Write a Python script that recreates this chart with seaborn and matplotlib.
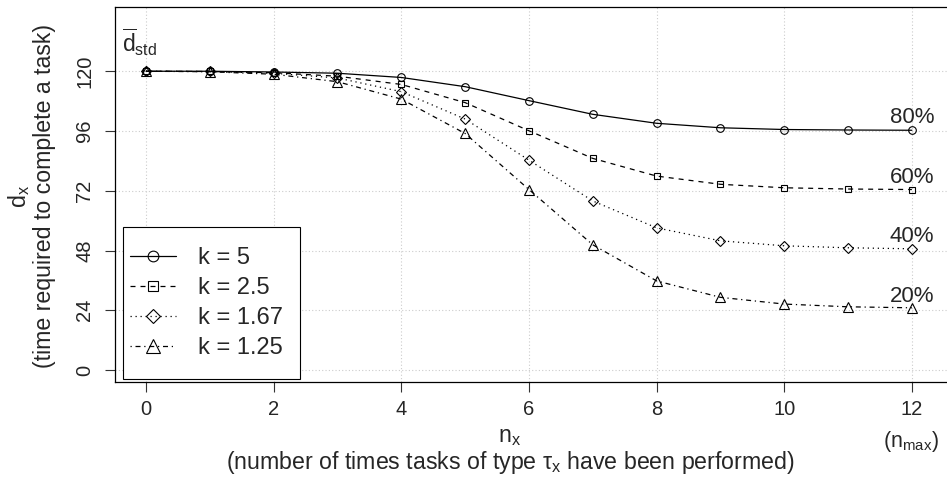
import numpy as np
import pandas as pd
import seaborn as sns
import matplotlib.pyplot as plt
from matplotlib.patches import Rectangle

# values
n_x = [0, 1, 2, 3, 4, 5, 6, 7, 8, 9, 10, 11, 12]
d_k5 = [120, 120, 119.7, 119.2, 117.5, 113.8, 108.2, 102.7, 99.1, 97.3, 96.6, 96.4, 96.3]
d_k25 = [120, 119.9, 119.4, 118.0, 114.7, 107.4, 96.1, 85.0, 77.9, 74.6, 73.2, 72.7, 72.5]
d_k167 = [120, 119.9, 119.2, 117.3, 111.8, 100.8, 84.3, 67.9, 57.1, 51.9, 49.9, 49.1, 48.7]
d_k125 = [120, 119.8, 118.8, 115.8, 108.8, 95.0, 72.5, 50.3, 35.8, 29.2, 26.5, 25.4, 25.0]
series_labels = ["k = 5", "k = 2.5", "k = 1.67", "k = 1.25"]
pct_labels = ["80%", "60%", "40%", "20%"]
pct_levels = [96, 72, 48, 24]
y_ticks = [0, 24, 48, 72, 96, 120]
x_ticks = [0, 2, 4, 6, 8, 10, 12]

sns.set_style("ticks")
plt.rcParams["font.family"] = ["Liberation Sans", "DejaVu Sans"]
plt.rcParams["mathtext.fontset"] = "custom"
plt.rcParams["mathtext.rm"] = "Liberation Sans"
plt.rcParams["mathtext.it"] = "Liberation Sans:italic"
plt.rcParams["mathtext.default"] = "regular"

fs_tick = 14.5
fs_lab = 16.7
W, H = 947, 479
fig = plt.figure(figsize=(9.47, 4.79), dpi=100)
ax = fig.add_axes([115 / W, 1 - 382 / H, 1 - 115 / W, (382 - 7) / H])

# grid
for x in x_ticks:
    ax.axvline(x, color="#cccccc", lw=0.8, ls=(0, (1, 2)), zorder=0)
for y in y_ticks:
    ax.axhline(y, color="#cccccc", lw=0.8, ls=(0, (1, 2)), zorder=0)

styles = [
    dict(ls="-", marker="o", ms=5.5),
    dict(ls=(0, (4, 4)), marker="s", ms=5),
    dict(ls=(0, (1, 3)), marker="D", ms=4.8),
    dict(ls=(0, (1, 3, 4, 3)), marker="^", ms=7),
]
for d, lab, st in zip([d_k5, d_k25, d_k167, d_k125], series_labels, styles):
    sns.lineplot(x=n_x, y=d, ax=ax, color="black", lw=0.9, linestyle=st["ls"],
                 marker=st["marker"], markersize=st["ms"], markerfacecolor="none",
                 markeredgecolor="black", markeredgewidth=0.8, label=lab)

for lab, lev in zip(pct_labels, pct_levels):
    ax.text(12, lev + 3.3, lab, ha="center", va="baseline", fontsize=16)

ax.text(-0.37, 127.7, r"$\overline{\mathrm{d}}_{\mathrm{std}}$", ha="left",
        va="baseline", fontsize=16.5)

ax.set_xlim(-0.486, 12.55)
ax.set_ylim(-4.8, 145.8)
ax.set_xticks(x_ticks)
ax.set_yticks(y_ticks)
ax.tick_params(axis="both", direction="out", length=7, width=0.8,
               labelsize=fs_tick, color="#333333")
ax.tick_params(axis="y", pad=8)
ax.tick_params(axis="x", pad=6)
for t in ax.get_yticklabels():
    t.set_rotation(90)
    t.set_va("center")
ax.spines["right"].set_visible(False)
for s in ["left", "top", "bottom"]:
    ax.spines[s].set_linewidth(0.9)
    ax.spines[s].set_color("black")
ax.set_xlabel("")
ax.set_ylabel("")

# legend (frame drawn separately: R-style box with tall vertical padding)
leg = ax.legend(loc="center left", bbox_to_anchor=((130 - 115) / 832, (382 - 303) / 375),
                borderaxespad=0, borderpad=0, fontsize=17, frameon=False,
                handlelength=1.95, handletextpad=0.93, labelspacing=0.34,
                markerscale=1.4)
ax.add_patch(Rectangle(((123 - 115) / 832, (382 - 379) / 375), (300 - 123) / 832,
                       (379 - 227) / 375, transform=ax.transAxes, fill=True,
                       facecolor="white", edgecolor="black", lw=0.8, zorder=4))
leg.set_zorder(5)

# axis titles
fig.text(19 / W, 1 - 196 / H, r"$d_x$", rotation=90, ha="center", va="center", fontsize=fs_lab)
fig.text(45 / W, 1 - 196 / H, "(time required to complete a task)", rotation=90,
         ha="center", va="center", fontsize=fs_lab)
fig.text(510 / W, 1 - 437 / H, r"$n_x$", ha="center", va="center", fontsize=fs_lab)
fig.text(510 / W, 1 - 463 / H,
         r"(number of times tasks of type $\tau_x$ have been performed)",
         ha="center", va="center", fontsize=fs_lab)
fig.text(911 / W, 1 - 441 / H, r"($n_{max}$)", ha="center", va="center", fontsize=15.5)

fig.savefig("out.png", dpi=100)
